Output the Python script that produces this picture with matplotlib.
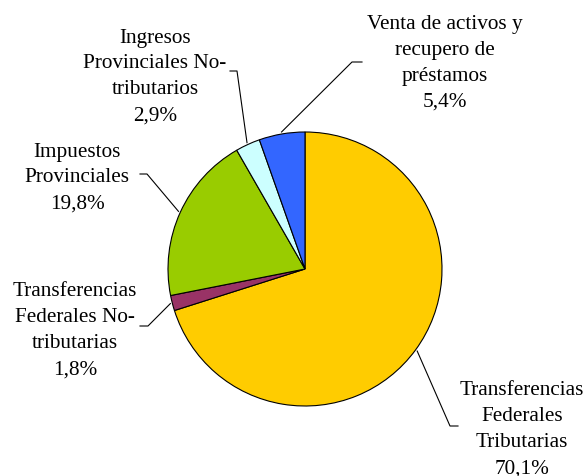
import matplotlib.pyplot as plt
import numpy as np

plt.rcParams['font.family'] = ['Liberation Serif', 'DejaVu Serif']

labels = ['Transferencias\nFederales\nTributarias',
          'Transferencias\nFederales No-\ntributarias',
          'Impuestos\nProvinciales',
          'Ingresos\nProvinciales No-\ntributarios',
          'Venta de activos y\nrecupero de\npréstamos']
values = [70.1, 1.8, 19.8, 2.9, 5.4]
colors = ['#FFCC00', '#993366', '#99CC00', '#CCFFFF', '#3366FF']

W, H = 587, 477
cx, cy, r = 305, 270, 137

# text block centers (pixels, y down), elbow of leader, side of horizontal stub
txt_pos = [(522, 430), (75, 331), (77, 178), (155, 77), (445, 63)]
elbow = [(450, 427), (148, 327), (147, 175), (237, 72), (352, 63)]
stub = [(458, 427), (140, 327), (140, 175), (230, 72), (362, 63)]

fig = plt.figure(figsize=(W / 100, H / 100), dpi=100)
ax = fig.add_axes([0, 0, 1, 1])

wedges, _ = ax.pie(values, colors=colors, startangle=90, counterclock=False,
                   center=(cx, H - cy), radius=r, frame=True,
                   wedgeprops={'edgecolor': 'black', 'linewidth': 0.8})
ax.set_xlim(0, W)
ax.set_ylim(0, H)
ax.axis('off')

for w, lab, v, tp, el, st in zip(wedges, labels, values, txt_pos, elbow, stub):
    mid = np.deg2rad((w.theta1 + w.theta2) / 2)
    px = cx + (r + 2) * np.cos(mid)
    py = (H - cy) + (r + 2) * np.sin(mid)
    ax.plot([px, el[0], st[0]], [py, H - el[1], H - st[1]],
            color='black', lw=0.8)
    ax.text(tp[0], H - tp[1], lab + '\n' + ('%.1f%%' % v).replace('.', ','),
            ha='center', va='center', fontsize=15.3, linespacing=1.5)

fig.savefig('out.png', dpi=100)
